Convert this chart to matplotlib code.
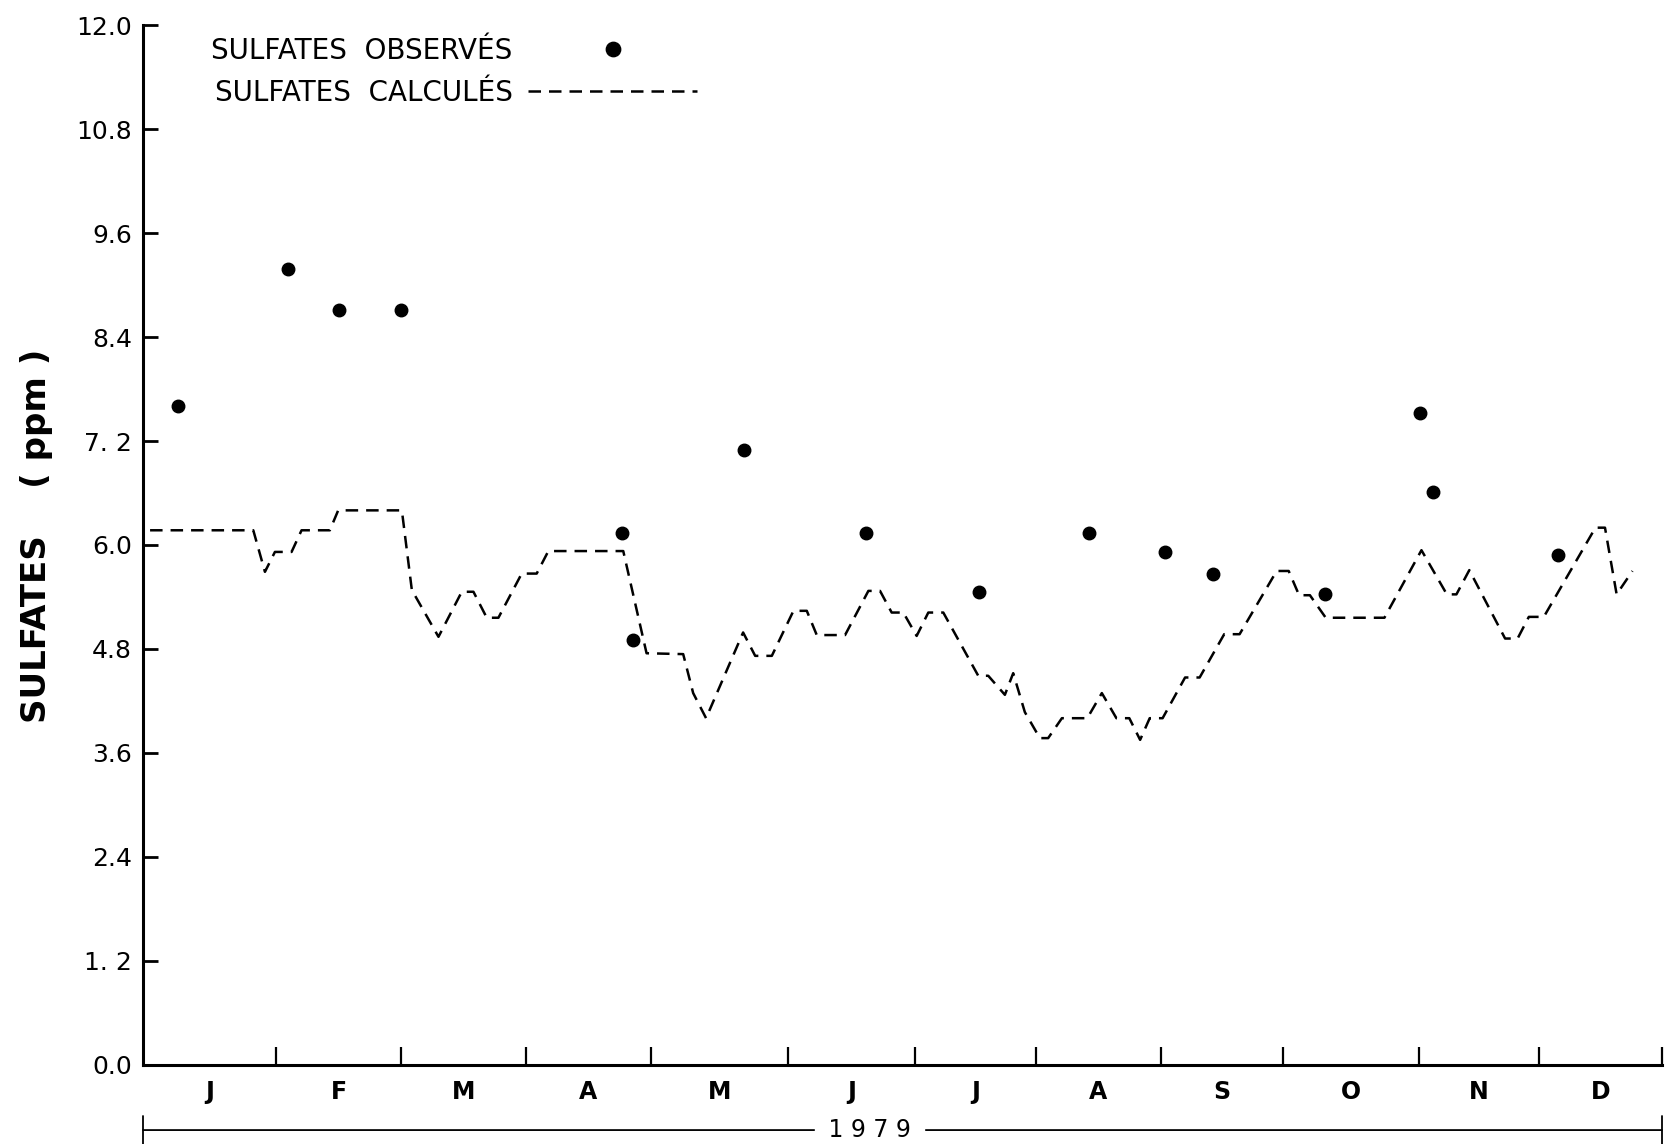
import matplotlib
matplotlib.use('Agg')
import matplotlib.pyplot as plt

# observed sulfates (day of year 1979, ppm)
obs_day = [8.5, 34.9, 47.0, 61.9, 115.2, 117.8, 144.4, 173.7, 200.8, 227.3,
           245.5, 257.1, 284.0, 306.9, 309.9, 339.9]
obs_ppm = [7.60, 9.19, 8.71, 8.71, 6.14, 4.90, 7.10, 6.14, 5.46, 6.14,
           5.92, 5.67, 5.43, 7.52, 6.61, 5.89]

# calculated sulfates (vertices of the dashed curve)
calc_day = [1.7, 26.5, 29.3, 31.7, 35.7, 38.1, 44.9, 46.9, 62.2, 64.6,
            71.0, 76.6, 79.4, 82.6, 85.4, 91.0, 94.6, 97.4, 115.4, 121.0,
            129.8, 132.2, 135.3, 144.2, 147.1, 151.1, 156.3, 159.5, 161.9, 168.7,
            174.3, 177.1, 179.9, 182.7, 185.9, 188.7, 192.3, 200.7, 203.1, 207.1,
            209.1, 211.9, 215.5, 217.5, 220.8, 226.9, 230.4, 233.9, 237.0, 239.6,
            241.9, 245.0, 250.4, 253.9, 259.8, 263.5, 272.4, 275.3, 277.8, 280.4,
            284.2, 298.3, 307.2, 313.3, 315.6, 318.7, 327.3, 330.3, 333.0, 336.6,
            349.0, 351.3, 354.1, 357.9]
calc_ppm = [6.17, 6.17, 5.69, 5.92, 5.92, 6.17, 6.17, 6.40, 6.40, 5.48,
            4.94, 5.46, 5.46, 5.16, 5.16, 5.67, 5.67, 5.93, 5.93, 4.75,
            4.74, 4.29, 4.00, 4.99, 4.72, 4.72, 5.24, 5.24, 4.96, 4.96,
            5.47, 5.47, 5.22, 5.22, 4.95, 5.22, 5.22, 4.49, 4.49, 4.27,
            4.52, 4.07, 3.77, 3.77, 4.00, 4.00, 4.29, 4.00, 4.00, 3.75,
            4.00, 4.00, 4.47, 4.47, 4.97, 4.97, 5.70, 5.70, 5.42, 5.42,
            5.16, 5.16, 5.94, 5.43, 5.43, 5.71, 4.92, 4.92, 5.17, 5.17,
            6.20, 6.20, 5.43, 5.70]

# axis ticks as drawn on the original
month_edges = [0, 32, 62, 92, 122, 155, 185.5, 214.5, 244.5, 274, 306.5, 335.5, 365]
month_labels = ['J', 'F', 'M', 'A', 'M', 'J', 'J', 'A', 'S', 'O', 'N', 'D']
y_ticks = [0.0, 1.2, 2.4, 3.6, 4.8, 6.0, 7.2, 8.4, 9.6, 10.8, 12.0]
y_tick_labels = ['0.0', '1. 2', '2.4', '3.6', '4.8', '6.0', '7. 2', '8.4', '9.6', '10.8', '12.0']

W, H = 1674, 1144
fig = plt.figure(figsize=(W / 100, H / 100), dpi=100)
ax = fig.add_axes([143 / W, 1 - 1064.6 / H, 1519 / W, 1039.2 / H])

line_calc, = ax.plot(calc_day, calc_ppm, color='black', lw=1.8, dashes=(5, 3.2))
pts_obs, = ax.plot(obs_day, obs_ppm, 'o', color='black', ms=9)

ax.set_xlim(0, 365)
ax.set_ylim(0, 12)
for s in ['top', 'right']:
    ax.spines[s].set_visible(False)
for s in ['left', 'bottom']:
    ax.spines[s].set_linewidth(2.2)

# y axis
ax.set_yticks(y_ticks)
ax.set_yticklabels(y_tick_labels)
ax.tick_params(axis='y', direction='in', length=11, width=2, labelsize=18, pad=8)

# x axis: month boundaries as ticks, month letters centred between
ax.set_xticks(month_edges[1:])
ax.set_xticklabels([])
ax.tick_params(axis='x', which='major', direction='in', length=13, width=1.6)
mids = [(a + b) / 2 for a, b in zip(month_edges[:-1], month_edges[1:])]
ax.set_xticks(mids, minor=True)
ax.set_xticklabels(month_labels, minor=True, fontweight='bold')
ax.tick_params(axis='x', which='minor', length=0, pad=11, labelsize=17)

# year bracket under the months
trans = ax.get_xaxis_transform()
ax.annotate('', xy=(0, -0.063), xytext=(365, -0.063), xycoords=trans, textcoords=trans,
            arrowprops=dict(arrowstyle='|-|', lw=1.3, color='black',
                            shrinkA=0, shrinkB=0), annotation_clip=False)
ax.text(174.5, -0.063, ' 1 9 7 9 ', transform=trans, ha='center', va='center',
        fontsize=17, backgroundcolor='white', clip_on=False)

# y label
fig.text(37 / W, 1 - 536 / H, 'SULFATES    ( ppm )', rotation=90,
         ha='center', va='center', fontsize=24.5, fontweight='bold')

# legend: text first, symbol after
leg = ax.legend([pts_obs, line_calc], ['SULFATES  OBSERVÉS', 'SULFATES  CALCULÉS'],
                loc='upper left', bbox_to_anchor=(0.045, 0.989), frameon=False,
                markerfirst=False, fontsize=20, handlelength=6.1, handletextpad=0.55,
                labelspacing=0.5, borderpad=0, borderaxespad=0, markerscale=1.15)

fig.savefig('out.png', dpi=100, facecolor='white')
